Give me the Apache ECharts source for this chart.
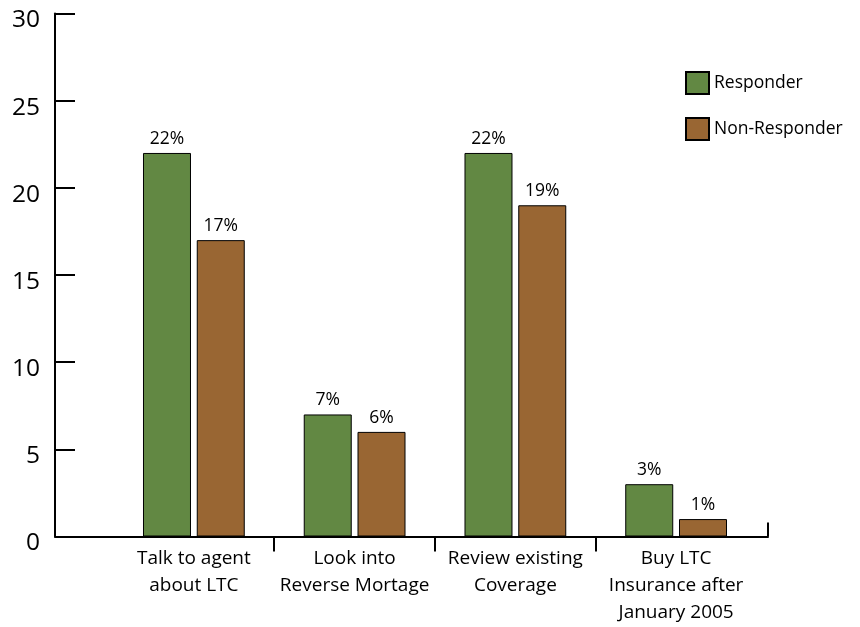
<!DOCTYPE html>
<html>
<head>
<meta charset="utf-8">
<script src="https://cdn.jsdelivr.net/npm/echarts@6/dist/echarts.min.js"></script>
<style>
  html, body { margin: 0; padding: 0; background: #fff; }
  #chart { width: 860px; height: 627px; }
</style>
</head>
<body>
<div id="chart"></div>
<script>
const categories = ['Talk to agent\nabout LTC', 'Look into\nReverse Mortage', 'Review existing\nCoverage', 'Buy LTC\nInsurance after\nJanuary 2005'];
const seriesNames = ['Responder', 'Non-Responder'];
const responder = [22, 7, 22, 3];
const nonResponder = [17, 6, 19, 1];
const yMin = 0, yMax = 30, yStep = 5;
// category-unit extent of the outer frame axis (boundaries between groups at 1, 2, 3)
const frameMin = -0.36, frameMax = 4.07;
const groupBoundaries = [1, 2, 3];

const FONT = '"Open Sans", Lato, sans-serif';
const chart = echarts.init(document.getElementById('chart'), null, { renderer: 'canvas' });

chart.setOption({
  animation: false,
  backgroundColor: '#fff',
  textStyle: { fontFamily: FONT },
  grid: [
    { left: 55, right: 92, top: 13.5, bottom: 90.5 },
    { left: 113.5, right: 103.5, top: 13.5, bottom: 90.5 }
  ],
  legend: {
    data: seriesNames,
    orient: 'vertical',
    left: 680, top: 66,
    itemWidth: 23, itemHeight: 22, itemGap: 22,
    icon: 'rect',
    textStyle: { fontSize: 17.5, color: '#000', fontFamily: FONT }
  },
  xAxis: [
    {
      gridIndex: 0, type: 'value', min: frameMin, max: frameMax,
      axisLine: { show: true, onZero: false, lineStyle: { color: '#000', width: 2 } },
      axisTick: { show: true, inside: false, length: 15, customValues: groupBoundaries, lineStyle: { color: '#000', width: 2 } },
      axisLabel: { show: false },
      splitLine: { show: false }
    },
    {
      gridIndex: 0, type: 'value', min: frameMin, max: frameMax, position: 'bottom',
      axisLine: { show: false, onZero: false },
      axisTick: { show: true, inside: true, length: 14, customValues: [frameMax], lineStyle: { color: '#000', width: 2 } },
      axisLabel: { show: false },
      splitLine: { show: false }
    },
    {
      gridIndex: 1, type: 'category', data: categories,
      axisLine: { show: false, onZero: false },
      axisTick: { show: false },
      axisLabel: { fontSize: 19, lineHeight: 27, margin: 9, color: '#000', fontFamily: FONT, interval: 0 },
      splitLine: { show: false }
    }
  ],
  yAxis: [
    {
      gridIndex: 0, type: 'value', min: yMin, max: yMax, interval: yStep,
      axisLine: { show: true, onZero: false, lineStyle: { color: '#000', width: 2 } },
      axisTick: { show: true, inside: true, length: 20, lineStyle: { color: '#000', width: 2 } },
      axisLabel: { fontSize: 24.5, margin: 15, color: '#000', fontFamily: FONT, verticalAlign: 'top', lineHeight: 14 },
      splitLine: { show: false }
    },
    {
      gridIndex: 1, type: 'value', min: yMin, max: yMax, interval: yStep, show: false,
      splitLine: { show: false }
    }
  ],
  series: [
    {
      name: seriesNames[0], type: 'bar', xAxisIndex: 2, yAxisIndex: 1,
      data: responder, barWidth: 48, barGap: '12%',
      itemStyle: { color: '#628843', borderColor: '#000', borderWidth: 1 },
      label: { show: true, position: 'top', distance: 5, formatter: '{c}%', fontSize: 17.5, color: '#000', fontFamily: FONT }
    },
    {
      name: seriesNames[1], type: 'bar', xAxisIndex: 2, yAxisIndex: 1,
      data: nonResponder, barWidth: 48, barGap: '12%',
      itemStyle: { color: '#996633', borderColor: '#000', borderWidth: 1 },
      label: { show: true, position: 'top', distance: 5, formatter: '{c}%', fontSize: 17.5, color: '#000', fontFamily: FONT }
    }
  ]
});
</script>
</body>
</html>
